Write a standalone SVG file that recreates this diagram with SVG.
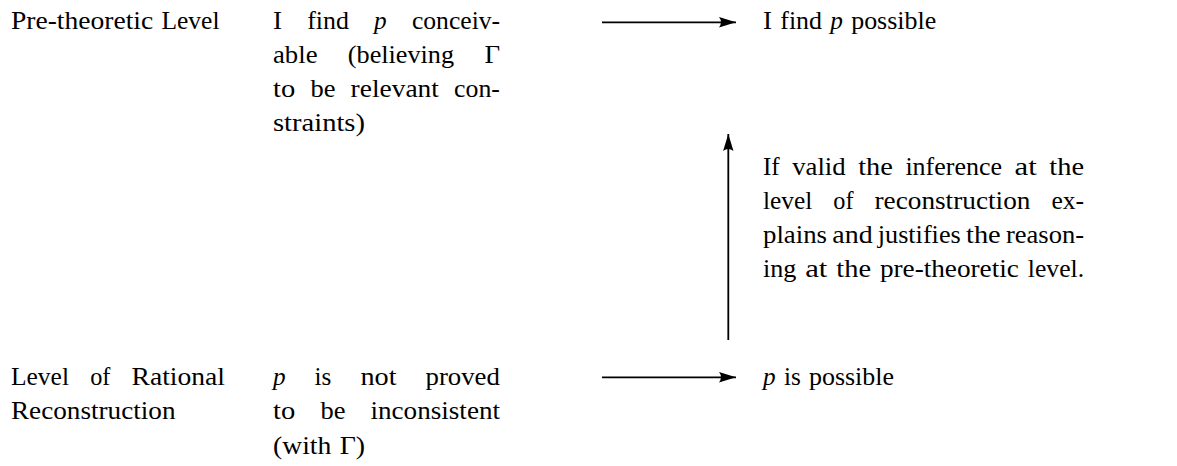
<svg xmlns="http://www.w3.org/2000/svg" width="1177" height="466" viewBox="0 0 1177 466">
<style>
text{font-family:"Liberation Serif","DejaVu Serif","Times New Roman",serif;font-size:25px;fill:#000}
.i{font-style:italic}
.c{stroke:#000;stroke-width:1.8;fill:none}
</style>
<defs>
<marker id="ah" markerUnits="userSpaceOnUse" markerWidth="18" markerHeight="12" refX="17" refY="5.5" orient="auto">
<path d="M0,0.3 Q4,5.5 0,10.7 L17,5.5 Z" fill="#000"/>
</marker>
</defs>
<rect width="1177" height="466" fill="#fff"/>
<g id="connectors">
<line class="c" x1="602" y1="22.3" x2="736" y2="22.3" marker-end="url(#ah)"/>
<line class="c" x1="602" y1="377.3" x2="736" y2="377.3" marker-end="url(#ah)"/>
<line class="c" x1="728.3" y1="340" x2="728.3" y2="134" marker-end="url(#ah)"/>
</g>
<g id="label-pretheoretic">
<text x="11" y="28.5" textLength="142.2" lengthAdjust="spacingAndGlyphs">Pre-theoretic</text>
<text x="161.5" y="28.5" textLength="58" lengthAdjust="spacingAndGlyphs">Level</text>
</g>
<g id="label-rational">
<text x="11" y="385" textLength="58" lengthAdjust="spacingAndGlyphs">Level</text>
<text x="90.2" y="385" textLength="20.2" lengthAdjust="spacingAndGlyphs">of</text>
<text x="131.6" y="385" textLength="93.4" lengthAdjust="spacingAndGlyphs">Rational</text>
<text x="11" y="419.3" textLength="164.5" lengthAdjust="spacingAndGlyphs">Reconstruction</text>
</g>
<g id="node-conceivable">
<text x="273" y="28.5" textLength="9" lengthAdjust="spacingAndGlyphs">I</text>
<text x="307.2" y="28.5" textLength="41.7" lengthAdjust="spacingAndGlyphs">find</text>
<text class="i" x="374.1" y="28.5" textLength="12.6" lengthAdjust="spacingAndGlyphs">p</text>
<text x="411.9" y="28.5" textLength="88.2" lengthAdjust="spacingAndGlyphs">conceiv-</text>
<text x="273" y="62.7" textLength="44.5" lengthAdjust="spacingAndGlyphs">able</text>
<text x="347.8" y="62.7" textLength="106.3" lengthAdjust="spacingAndGlyphs">(believing</text>
<text x="484.4" y="62.7" textLength="15.6" lengthAdjust="spacingAndGlyphs">Γ</text>
<text x="273" y="96.9" textLength="22.2" lengthAdjust="spacingAndGlyphs">to</text>
<text x="310.4" y="96.9" textLength="25" lengthAdjust="spacingAndGlyphs">be</text>
<text x="350.6" y="96.9" textLength="88.3" lengthAdjust="spacingAndGlyphs">relevant</text>
<text x="454.1" y="96.9" textLength="45.8" lengthAdjust="spacingAndGlyphs">con-</text>
<text x="273" y="131.1" textLength="92" lengthAdjust="spacingAndGlyphs">straints)</text>
</g>
<g id="node-possible-top">
<text x="763" y="28.5" textLength="9" lengthAdjust="spacingAndGlyphs">I</text>
<text x="780.3" y="28.5" textLength="41.7" lengthAdjust="spacingAndGlyphs">find</text>
<text class="i" x="830.3" y="28.5" textLength="12.6" lengthAdjust="spacingAndGlyphs">p</text>
<text x="851.2" y="28.5" textLength="85" lengthAdjust="spacingAndGlyphs">possible</text>
</g>
<g id="node-explanation">
<text x="763" y="175" textLength="16.7" lengthAdjust="spacingAndGlyphs">If</text>
<text x="792.2" y="175" textLength="53.5" lengthAdjust="spacingAndGlyphs">valid</text>
<text x="858.2" y="175" textLength="34.7" lengthAdjust="spacingAndGlyphs">the</text>
<text x="905.4" y="175" textLength="96.6" lengthAdjust="spacingAndGlyphs">inference</text>
<text x="1014.5" y="175" textLength="22.2" lengthAdjust="spacingAndGlyphs">at</text>
<text x="1049.3" y="175" textLength="34.7" lengthAdjust="spacingAndGlyphs">the</text>
<text x="763" y="209" textLength="49.3" lengthAdjust="spacingAndGlyphs">level</text>
<text x="833.3" y="209" textLength="20.2" lengthAdjust="spacingAndGlyphs">of</text>
<text x="874.5" y="209" textLength="155.9" lengthAdjust="spacingAndGlyphs">reconstruction</text>
<text x="1051.4" y="209" textLength="32.6" lengthAdjust="spacingAndGlyphs">ex-</text>
<text x="763" y="243" textLength="64" lengthAdjust="spacingAndGlyphs">plains</text>
<text x="832.3" y="243" textLength="40.3" lengthAdjust="spacingAndGlyphs">and</text>
<text x="877.8" y="243" textLength="82.9" lengthAdjust="spacingAndGlyphs">justifies</text>
<text x="966" y="243" textLength="34.7" lengthAdjust="spacingAndGlyphs">the</text>
<text x="1006" y="243" textLength="78" lengthAdjust="spacingAndGlyphs">reason-</text>
<text x="763" y="277" textLength="33.4" lengthAdjust="spacingAndGlyphs">ing</text>
<text x="805.2" y="277" textLength="22.2" lengthAdjust="spacingAndGlyphs">at</text>
<text x="836.3" y="277" textLength="34.7" lengthAdjust="spacingAndGlyphs">the</text>
<text x="879.9" y="277" textLength="139" lengthAdjust="spacingAndGlyphs">pre-theoretic</text>
<text x="1027.8" y="277" textLength="56.3" lengthAdjust="spacingAndGlyphs">level.</text>
</g>
<g id="node-not-proved">
<text class="i" x="273" y="385" textLength="12.6" lengthAdjust="spacingAndGlyphs">p</text>
<text x="314.6" y="385" textLength="16.8" lengthAdjust="spacingAndGlyphs">is</text>
<text x="360.4" y="385" textLength="36.1" lengthAdjust="spacingAndGlyphs">not</text>
<text x="425.5" y="385" textLength="74.4" lengthAdjust="spacingAndGlyphs">proved</text>
<text x="273" y="419.3" textLength="22.2" lengthAdjust="spacingAndGlyphs">to</text>
<text x="320.4" y="419.3" textLength="25" lengthAdjust="spacingAndGlyphs">be</text>
<text x="370.5" y="419.3" textLength="129.5" lengthAdjust="spacingAndGlyphs">inconsistent</text>
<text x="273" y="453.5" textLength="58.4" lengthAdjust="spacingAndGlyphs">(with</text>
<text x="339.7" y="453.5" textLength="25.4" lengthAdjust="spacingAndGlyphs">Γ)</text>
</g>
<g id="node-possible-bottom">
<text class="i" x="763" y="385" textLength="12.6" lengthAdjust="spacingAndGlyphs">p</text>
<text x="783.9" y="385" textLength="16.8" lengthAdjust="spacingAndGlyphs">is</text>
<text x="809" y="385" textLength="85" lengthAdjust="spacingAndGlyphs">possible</text>
</g>
</svg>
